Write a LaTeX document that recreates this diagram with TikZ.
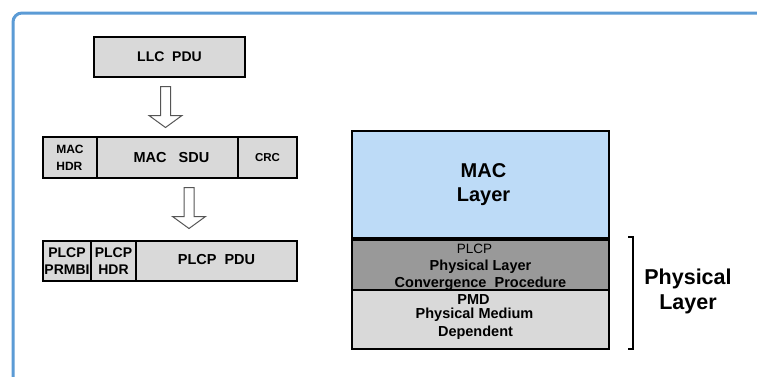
\documentclass[tikz,border=0pt]{standalone}
\usepackage{fontspec}
\setmainfont{Liberation Sans}
\usetikzlibrary{calc}
\definecolor{framebl}{RGB}{91,155,213}
\definecolor{cellgray}{RGB}{217,217,217}
\definecolor{macblue}{RGB}{189,219,247}
\definecolor{plcpgray}{RGB}{153,153,153}
\definecolor{arrowline}{RGB}{85,85,85}
\tikzset{
  cell/.style={draw=black, line width=1.8pt, fill=cellgray, anchor=north west,
    inner sep=0pt, outer sep=0pt, font=\bfseries, align=center},
  layerbox/.style={draw=black, line width=1.5pt, anchor=north west,
    inner sep=0pt, outer sep=0pt, align=center},
  layertext/.style={inner sep=0pt, font=\bfseries\fontsize{14.5}{15}\selectfont},
  hollowarrow/.style={draw=arrowline, line width=1pt, fill=white, line join=miter},
}
\newcommand{\downarrowat}[1]{%
  \draw[hollowarrow] ($(#1)+(-5,0)$) -- ($(#1)+(5,0)$) -- ($(#1)+(5,29)$)
    -- ($(#1)+(16.5,29)$) -- ($(#1)+(0,41)$) -- ($(#1)+(-16.5,29)$)
    -- ($(#1)+(-5,29)$) -- cycle;}
\begin{document}
\begin{tikzpicture}[x=1pt, y=-1pt]
\useasboundingbox (0,0) rectangle (757,376);
\clip (0,0) rectangle (757,376);
\fill[white] (0,0) rectangle (757,376);
% outer rounded frame, running off the right and bottom edges
\draw[framebl, line width=3pt, rounded corners=9pt] (13,380) -- (13,13) -- (760,13);

% LLC PDU
\node[cell, minimum width=151pt, minimum height=40pt, font=\bfseries\fontsize{14}{16}\selectfont]
  (llc) at (94,37) {\raisebox{-2pt}{LLC\ \ PDU}};

% MAC frame row
\node[cell, minimum width=54pt, minimum height=41pt, font=\bfseries\fontsize{12}{17}\selectfont, align=left]
  (machdr) at (43,137) {MAC\\HDR};
\node[cell, minimum width=141pt, minimum height=41pt, font=\bfseries\fontsize{14.5}{16}\selectfont]
  (macsdu) at (97,137) {\hspace{8pt}MAC\ \ \ SDU};
\node[cell, minimum width=59pt, minimum height=41pt, font=\bfseries\fontsize{11.5}{13}\selectfont]
  (crc) at (238,137) {\raisebox{-2pt}{CRC}};

% PLCP frame row
\node[cell, minimum width=48pt, minimum height=40pt, font=\bfseries\fontsize{14}{16.5}\selectfont]
  (prmbl) at (43,241) {PLCP\\PRMBI};
\node[cell, minimum width=45pt, minimum height=40pt, font=\bfseries\fontsize{14}{16.5}\selectfont]
  (plcphdr) at (91,241) {PLCP\\HDR};
\node[cell, minimum width=161pt, minimum height=40pt, font=\bfseries\fontsize{14.5}{16}\selectfont]
  (plcppdu) at (136,241) {\raisebox{3pt}{PLCP\ \ PDU}};

% hollow arrows between the rows
\coordinate (arr1) at ($(llc.south)!0.5!(macsdu.north)+(-3,-20.5)$);
\coordinate (arr2) at ($(macsdu.south)!0.5!(plcppdu.north)+(-3,-22)$);
\downarrowat{arr1}
\downarrowat{arr2}

% layer stack
\node[layerbox, fill=macblue, minimum width=257pt, minimum height=108pt,
      font=\bfseries\fontsize{20}{24}\selectfont]
  (mac) at (352,131) {\hspace{6pt}MAC\\\hspace{6pt}Layer};
\node[layerbox, fill=plcpgray, minimum width=257pt, minimum height=50pt] (plcp) at (352,240) {};
\node[layerbox, fill=cellgray, minimum width=257pt, minimum height=59pt] (pmd) at (352,290) {};
\node[layertext, font=\fontsize{13.5}{14}\selectfont] (plcpa) at ($(plcp.north)+(-6,9)$) {PLCP};
\node[layertext] (plcpb) at ($(plcp.north)+(0,26.5)$) {Physical Layer};
\node[layertext] (plcpc) at ($(plcp.north)+(0,43.5)$) {Convergence\ \ Procedure};
\node[layertext] (pmda) at ($(pmd.north)+(-7,10)$) {PMD};
\node[layertext] (pmdb) at ($(pmd.north)+(-6,25)$) {Physical Medium};
\node[layertext] (pmdc) at ($(pmd.north)+(-5,43)$) {Dependent};
\draw[black, line width=3.5pt] (mac.south west) -- (mac.south east);
\draw[black, line width=1.5pt] (plcp.south west) -- (plcp.south east);
\draw[black, line width=1.5pt] (mac.north west) rectangle (pmd.south east);

% bracket and its label
\coordinate (brtop) at (633,237);
\coordinate (brbot) at (633,349);
\draw[black, line width=2.8pt, line cap=rect] ($(brtop)+(-4,0)$) -- (brtop) -- (brbot) -- ($(brbot)+(-4,0)$);
\node[font=\bfseries\fontsize{21.5}{25}\selectfont, align=center] (phy) at (688,291) {Physical\\Layer};
\end{tikzpicture}
\end{document}
